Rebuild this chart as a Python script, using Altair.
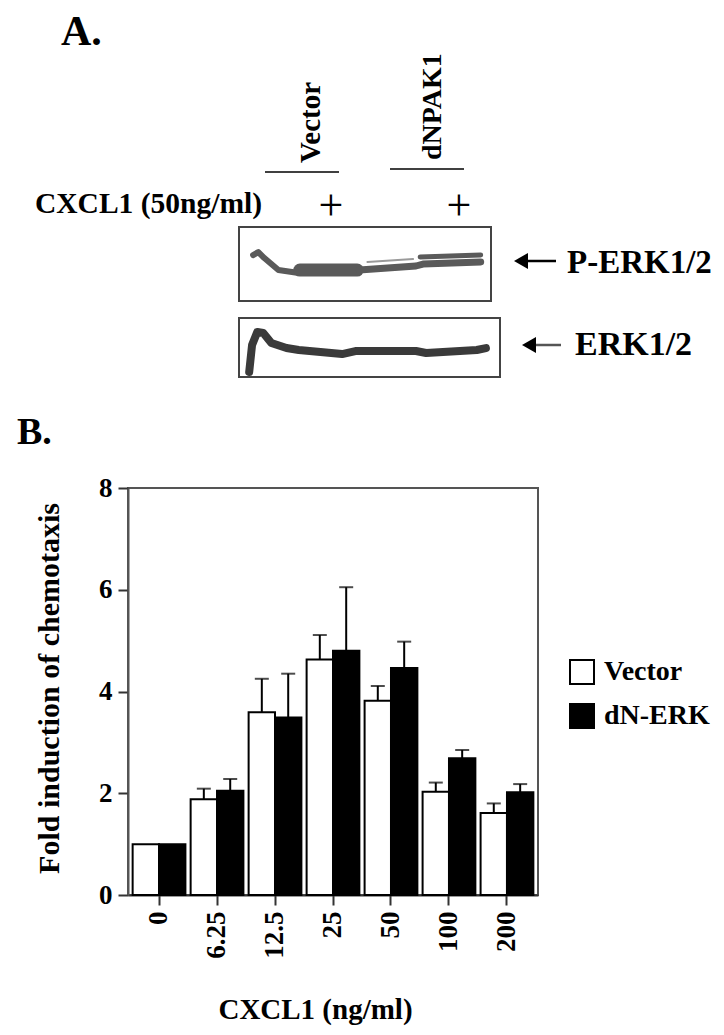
import altair as alt
import pandas as pd

# ---------------- data ----------------
conc = ["0", "6.25", "12.5", "25", "50", "100", "200"]
series = ["Vector", "dN-ERK"]
vector_mean = [1.0, 1.88, 3.59, 4.63, 3.82, 2.03, 1.61]
vector_err = [0.0, 0.21, 0.66, 0.48, 0.29, 0.18, 0.19]
dn_mean = [1.0, 2.05, 3.49, 4.80, 4.46, 2.69, 2.02]
dn_err = [0.0, 0.23, 0.86, 1.25, 0.52, 0.16, 0.16]
y_ticks = [0, 2, 4, 6, 8]

# western-blot traces (panel A), in blot units 0-100 across / down the two boxes
perk_seg = ["p1"] * 5 + ["p2"] * 2 + ["p3"] * 4 + ["p4"] * 2 + ["p5"] * 2
perk_x = [5.4, 7.4, 9.7, 15.1, 22.9, 23.3, 45.3, 46.1, 67.8, 70.5, 92.6, 69.4, 92.6, 49.2, 66.7]
perk_y = [18.7, 16.7, 20.7, 28.7, 30.7, 28.7, 28.7, 28.7, 26.0, 24.7, 23.3, 20.0, 18.7, 23.3, 21.3]
perk_w = [6] * 5 + [13] * 2 + [7] * 4 + [5] * 2 + [2] * 2
erk_x = [3.9, 5.0, 7.0, 9.3, 12.4, 18.2, 22.9, 39.5, 44.6, 67.8, 71.7, 91.1, 94.6]
erk_y = [96.7, 78.7, 70.0, 70.7, 77.3, 80.7, 82.0, 84.7, 82.7, 82.7, 84.0, 82.0, 80.7]

FONT = "Liberation Serif"

rows = []
for c, m, e in zip(conc, vector_mean, vector_err):
    rows.append({"conc": c, "series": "Vector", "mean": m, "err": e, "top": m + e})
for c, m, e in zip(conc, dn_mean, dn_err):
    rows.append({"conc": c, "series": "dN-ERK", "mean": m, "err": e, "top": m + e})
df = pd.DataFrame(rows)

blot_rows = []
for s, x, y, w in zip(perk_seg, perk_x, perk_y, perk_w):
    blot_rows.append({"seg": s, "bx": x, "by": y, "w": w, "c": "#5a5a5a" if w > 2 else "#9a9a9a"})
for x, y in zip(erk_x, erk_y):
    blot_rows.append({"seg": "e1", "bx": x, "by": y, "w": 8, "c": "#3a3a3a"})
blot = pd.DataFrame(blot_rows)
blot["order"] = range(len(blot))

one = pd.DataFrame({"k": [0]})

# ---------------- panel B ----------------
x_enc = alt.X(
    "conc:N", sort=conc,
    scale=alt.Scale(paddingInner=0.09, paddingOuter=0.08),
    axis=alt.Axis(
        title="CXCL1 (ng/ml)", labelAngle=270, labelAlign="right", labelBaseline="middle",
        labelFont=FONT, labelFontSize=27, labelFontWeight="bold", labelColor="black",
        labelPadding=6, tickSize=10, tickColor="#333", tickWidth=2,
        domainColor="#333", domainWidth=2,
        titleFont=FONT, titleFontSize=29, titleFontWeight="bold", titleColor="black",
        titleX=187, titleY=123, titleAlign="center", titleBaseline="alphabetic",
    ),
)
xo_enc = alt.XOffset("series:N", sort=series, scale=alt.Scale(paddingInner=0, paddingOuter=0))
y_enc = alt.Y(
    "mean:Q",
    scale=alt.Scale(domain=[0, 8], nice=False),
    axis=alt.Axis(
        title="Fold induction of chemotaxis", values=y_ticks, grid=False,
        labelFont=FONT, labelFontSize=27, labelFontWeight="bold", labelColor="black",
        labelPadding=6, tickSize=10, tickColor="#333", tickWidth=2,
        domainColor="#555", domainWidth=2,
        titleFont=FONT, titleFontSize=30, titleFontWeight="bold", titleColor="black",
        titleAngle=270, titleX=-79, titleY=200, titleAlign="center", titleBaseline="middle",
    ),
)

bars = alt.Chart(df).mark_bar(stroke="black", strokeWidth=2).encode(
    x=x_enc, xOffset=xo_enc, y=y_enc,
    fill=alt.Fill(
        "series:N", sort=series,
        scale=alt.Scale(domain=series, range=["white", "black"]),
        legend=alt.Legend(
            orient="none", legendX=440, legendY=170, title=None,
            symbolType="square", symbolSize=576, symbolStrokeColor="black",
            symbolStrokeWidth=2, labelFont=FONT, labelFontSize=28,
            labelFontWeight="bold", labelColor="black", labelOffset=8, rowPadding=12,
        ),
    ),
)
rules = alt.Chart(df).transform_filter("datum.err > 0").mark_rule(
    color="black", strokeWidth=2
).encode(x=alt.X("conc:N", sort=conc), xOffset=alt.XOffset("series:N", sort=series),
         y="mean:Q", y2="top:Q")
caps = alt.Chart(df).transform_filter("datum.err > 0").mark_tick(
    color="black", thickness=2, size=14
).encode(x=alt.X("conc:N", sort=conc), xOffset=alt.XOffset("series:N", sort=series),
         y="top:Q")
panel_b = alt.layer(bars, rules, caps)

# ---------------- panel A (annotations and blot) ----------------
def txt(s, x, y, size, angle=0, align="left", baseline="alphabetic", weight="bold"):
    return alt.Chart(one).mark_text(
        text=s, font=FONT, fontSize=size, fontWeight=weight, angle=angle,
        align=align, baseline=baseline, color="black",
    ).encode(x=alt.value(x), y=alt.value(y))

def hline(x1, x2, y, w=1.5, color="black"):
    return alt.Chart(one).mark_rule(color=color, strokeWidth=w).encode(
        x=alt.value(x1), x2=alt.value(x2), y=alt.value(y))

def box(x1, x2, y1, y2):
    return alt.Chart(one).mark_rect(filled=False, stroke="#444", strokeWidth=2).encode(
        x=alt.value(x1), x2=alt.value(x2), y=alt.value(y1), y2=alt.value(y2))

def arrowhead(x, y):
    return alt.Chart(one).mark_point(shape="triangle-left", filled=True, size=260,
                                     color="black", opacity=1).encode(
        x=alt.value(x), y=alt.value(y))

blot_layer = alt.Chart(blot).mark_line(strokeCap="round", strokeJoin="round").encode(
    x=alt.X("bx:Q", scale=alt.Scale(domain=[0, 100], range=[111, 372]), axis=None),
    y=alt.Y("by:Q", scale=alt.Scale(domain=[0, 100], range=[-261, -111]), axis=None),
    detail="seg:N", order="order:Q",
    size=alt.Size("w:Q", scale=None, legend=None),
    color=alt.Color("c:N", scale=None, legend=None),
)

annot = [
    txt("A.", -67, -443, 42),
    txt("B.", -111, -44, 38),
    txt("Vector", 192, -325, 29, angle=270),
    txt("dNPAK1", 313, -328, 28, angle=270),
    hline(137, 211, -316),
    hline(262, 336, -319),
    txt("CXCL1 (50ng/ml)", -93, -275, 29.5),
    txt("+", 203, -281, 44, align="center", baseline="middle", weight="normal"),
    txt("+", 331, -281, 44, align="center", baseline="middle", weight="normal"),
    box(111, 363, -261, -187),
    box(111, 372, -170, -111),
    arrowhead(393, -227),
    hline(400, 428, -227, w=2.5),
    txt("P-ERK1/2", 439, -225, 33, baseline="middle"),
    arrowhead(401, -143),
    hline(408, 433, -143, w=2.5, color="#555"),
    txt("ERK1/2", 447, -143, 34, baseline="middle"),
]

chart = alt.layer(panel_b, blot_layer, *annot).resolve_scale(
    x="independent", y="independent"
).properties(
    width=410, height=407,
    padding={"left": 120, "top": 480, "right": 178, "bottom": 132},
    autosize=alt.AutoSizeParams(type="none"),
    background="white",
).configure_view(stroke="#555", strokeWidth=2)

chart.save("out.html", embed_options={"renderer": "svg", "actions": False})
